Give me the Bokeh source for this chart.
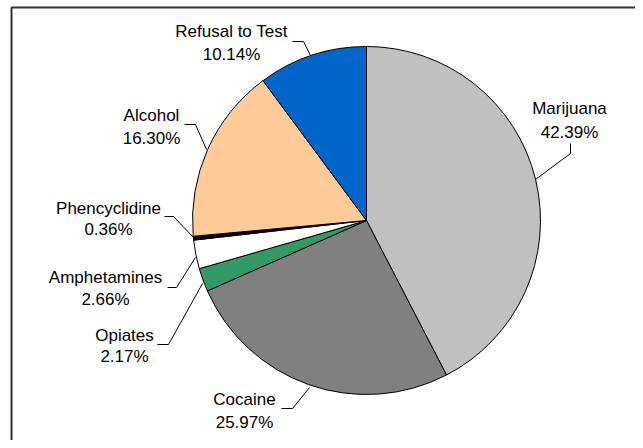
import numpy as np
from bokeh.plotting import figure
from bokeh.models import ColumnDataSource, Range1d
from bokeh.core.properties import value
from bokeh.embed import file_html
from bokeh.resources import INLINE

# ---- data ----
categories = ["Marijuana", "Cocaine", "Opiates", "Amphetamines", "Phencyclidine", "Alcohol", "Refusal to Test"]
shares = [42.39, 25.97, 2.17, 2.66, 0.36, 16.30, 10.14]
colors = ["#C0C0C0", "#808080", "#339966", "#FFFFFF", "#000000", "#FFCC99", "#0066CC"]

W, H = 635, 440

def fx(px):
    return px

def fy(py):
    return H - py

p = figure(width=W, height=H, output_backend="svg", toolbar_location=None,
           x_range=Range1d(0, W), y_range=Range1d(0, H), min_border=0,
           outline_line_color=None, background_fill_color="white")
p.axis.visible = False
p.grid.visible = False

# frame lines (left and top, rest cut off by window)
p.line(x=[fx(11), fx(11), W], y=[0, fy(7), fy(7)], line_color="#333333", line_width=2)

# pie
vals = np.array(shares)
frac = vals / vals.sum()
cum = np.concatenate([[0], np.cumsum(frac)])
start = np.pi / 2 - 2 * np.pi * cum[:-1]
end = np.pi / 2 - 2 * np.pi * cum[1:]
src = ColumnDataSource(dict(start=start, end=end, color=colors, name=categories))
cx, cy, r = fx(366), fy(220), 174
p.wedge(x=cx, y=cy, radius=r, start_angle="start", end_angle="end", direction="clock",
        fill_color="color", line_color="black", line_width=1, source=src)

# label layout (page pixel positions): centre x, baseline of name, baseline of percent
label_pos = {
    "Marijuana": (569, 113, 137),
    "Cocaine": (244, 404, 427),
    "Opiates": (124, 340, 361),
    "Amphetamines": (105, 282, 304),
    "Phencyclidine": (108, 213, 234),
    "Alcohol": (151, 120, 143),
    "Refusal to Test": (231, 36, 59),
}
leaders = {
    "Marijuana": [(570, 143), (570, 153), (535, 179)],
    "Cocaine": [(281, 408), (292, 408), (309, 387)],
    "Opiates": [(157, 344), (168, 344), (202, 283)],
    "Amphetamines": [(167, 287), (176, 287), (195, 257)],
    "Phencyclidine": [(164, 216), (173, 216), (193, 237)],
    "Alcohol": [(184, 124), (195, 124), (206, 149)],
    "Refusal to Test": [(292, 41), (303, 41), (310, 55)],
}

shift = 5
tx, ty, tt = [], [], []
for name, v in zip(categories, shares):
    x0, b1, b2 = label_pos[name]
    tx += [fx(x0), fx(x0)]
    ty += [fy(b1 - shift), fy(b2 - shift)]
    tt += [name, f"{v:.2f}%"]
p.text(x=tx, y=ty, text=tt, text_align="center", text_baseline="alphabetic",
       text_font=value("Liberation Sans"), text_font_size="17px", text_color="black")

xs = [[fx(a) for a, b in leaders[n]] for n in categories]
ys = [[fy(b) for a, b in leaders[n]] for n in categories]
p.multi_line(xs=xs, ys=ys, line_color="black", line_width=1)

open("out.html", "w").write(file_html(p, INLINE))
